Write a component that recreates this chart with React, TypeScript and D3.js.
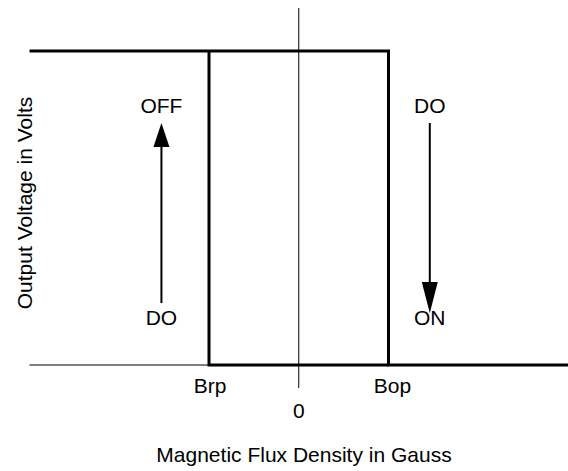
import React from "react";
import * as d3 from "d3";

const W = 568;
const H = 471;

// Magnetic flux points (arbitrary units), Brp = -1, Bop = +1
const tickLabels = ["Brp", "0", "Bop"];
const tickValues = [-1, 0, 1];
// Output levels: 0 = low (ON), 1 = high (OFF)
const upperBranch: [number, number][] = [[-3, 1], [1, 1], [1, 0], [3, 0]];
const releaseEdge: [number, number][] = [[-1, 1], [-1, 0], [1, 0]];
const lowLeft: [number, number][] = [[-3, 0], [-1, 0]];
const stateLabels = [
  { b: -1.53, top: "OFF", bottom: "DO", dir: "up" },
  { b: 1.46, top: "DO", bottom: "ON", dir: "down" },
];

export default function App() {
  const x = d3.scaleLinear().domain([-3, 3]).range([29.5, 568]);
  const y = d3.scaleLinear().domain([0, 1]).range([365, 51]);
  const line = d3.line<[number, number]>().x((d) => x(d[0])).y((d) => y(d[1]));
  const font = "Liberation Sans, Arial, sans-serif";
  const fs = 21;

  return (
    <svg width={W} height={H} style={{ position: "absolute", left: 0, top: 0, background: "#fff" }}>
      <rect width={W} height={H} fill="#fff" />
      {/* vertical axis at B = 0 */}
      <line x1={x(0)} x2={x(0)} y1={8} y2={388} stroke="#000" strokeWidth={1} />
      <path d={line(lowLeft) || ""} fill="none" stroke="#808080" strokeWidth={2} />
      <path d={line(upperBranch) || ""} fill="none" stroke="#000" strokeWidth={3} strokeLinejoin="miter" />
      <path d={line(releaseEdge) || ""} fill="none" stroke="#000" strokeWidth={3} strokeLinejoin="miter" />

      {tickValues.map((v, i) => (
        <text
          key={i}
          x={x(v) + (i === 2 ? 4 : i === 0 ? 1 : 0)}
          y={v === 0 ? 418 : 393}
          textAnchor="middle"
          fontFamily={font}
          fontSize={fs}
          fill="#000"
        >
          {tickLabels[i]}
        </text>
      ))}

      {stateLabels.map((s, i) => {
        const cx = x(s.b);
        const shaftTop = 123;
        const shaftBot = s.dir === "up" ? 303 : 313;
        return (
          <g key={i}>
            <text x={cx} y={113} textAnchor="middle" fontFamily={font} fontSize={fs} fill="#000">
              {s.top}
            </text>
            <text x={cx} y={325} textAnchor="middle" fontFamily={font} fontSize={fs} fill="#000">
              {s.bottom}
            </text>
            {s.dir === "up" ? (
              <>
                <line x1={cx} x2={cx} y1={146} y2={shaftBot} stroke="#000" strokeWidth={2} />
                <path d={`M${cx},${shaftTop} L${cx - 8},${147} L${cx + 8},${147} Z`} fill="#000" />
              </>
            ) : (
              <>
                <line x1={cx} x2={cx} y1={shaftTop} y2={283} stroke="#000" strokeWidth={2} />
                <path d={`M${cx},${shaftBot} L${cx - 8},${282} L${cx + 8},${282} Z`} fill="#000" />
              </>
            )}
          </g>
        );
      })}

      <text x={304} y={462} textAnchor="middle" fontFamily={font} fontSize={fs} fill="#000">
        Magnetic Flux Density in Gauss
      </text>
      <text
        transform={`translate(32,${203}) rotate(-90)`}
        textAnchor="middle"
        fontFamily={font}
        fontSize={fs}
        fill="#000"
      >
        Output Voltage in Volts
      </text>
    </svg>
  );
}
